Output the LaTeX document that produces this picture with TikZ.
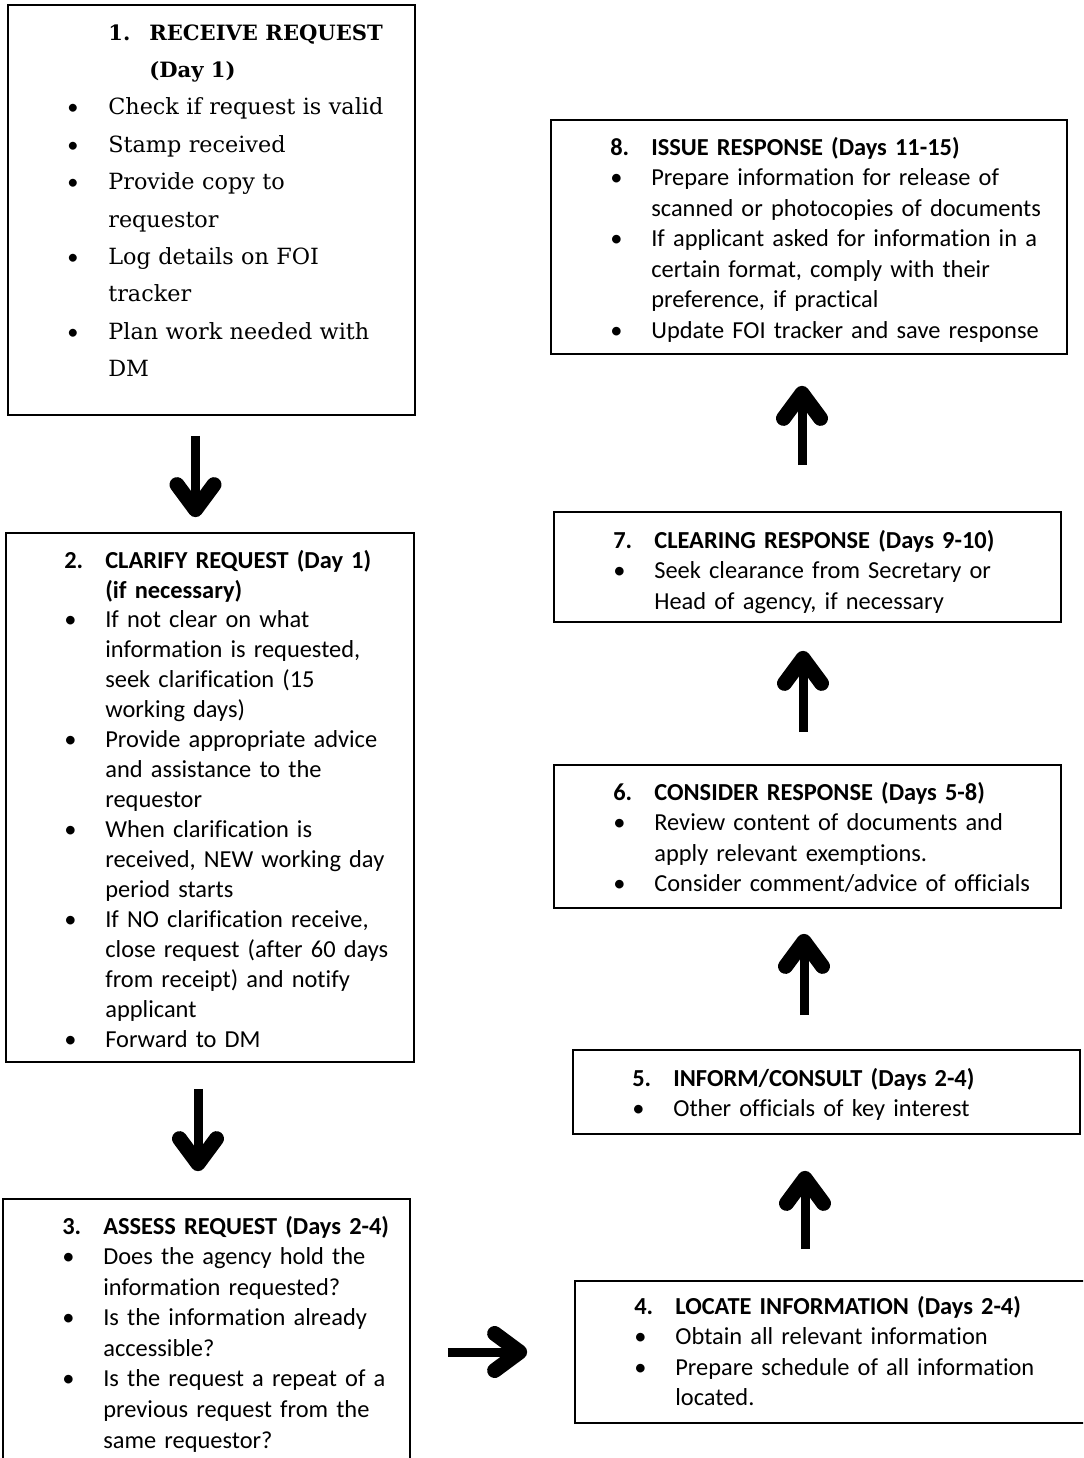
\documentclass[tikz,border=0pt]{standalone}
\usepackage{fontspec}
\setmainfont{Carlito}[Ligatures=NoCommon]
\newfontfamily\serf{DejaVu Serif}
\usetikzlibrary{positioning}
\usetikzlibrary{arrows.meta}
\usetikzlibrary{fit}

\newlength{\labw}
\setlength{\labw}{0.82cm}
\newcommand{\hd}[2]{\noindent\makebox[\labw][l]{\textbf{#1}}\textbf{#2}\par}
\newcommand{\bl}[1]{\noindent\makebox[\labw][l]{{\normalfont\textbullet}}#1\par}
\newcommand{\cl}[1]{\noindent\hspace*{\labw}#1\par}

\tikzset{
  box/.style={draw, line width=1pt, inner sep=0pt},
  txt/.style={anchor=base west, inner sep=0pt, text width=10cm,
    font=\fontsize{13.9}{17.4}\selectfont},
  bigarrow/.style={line width=0.18cm,
    -{Straight Barb[round, length=0.5cm, width=0.74cm, line width=0.3cm]}}
}

\begin{document}
\begin{tikzpicture}[x=0.02cm, y=-0.02cm]
\useasboundingbox (0,0) rectangle (1083,1458);
\clip (0,0) rectangle (1083,1458);

%% boxes
\node[box, fit={(8,5) (415,415)}] (b1) {};
\node[box, fit={(6,533) (414,1062)}] (b2) {};
\node[box, fit={(3,1199) (410,1475)}] (b3) {};
\node[box, fit={(575,1281) (1095,1423)}] (b4) {};
\node[box, fit={(573,1050) (1080,1134)}] (b5) {};
\node[box, fit={(554,765) (1061,908)}] (b6) {};
\node[box, fit={(554,512) (1061,622)}] (b7) {};
\node[box, fit={(551,120) (1067,354)}] (b8) {};

%% texts
\node[txt, font=\serf\fontsize{12.7}{21.3}\selectfont] (t1) at (67,40) {%
\noindent\hspace*{\labw}{\fontsize{12}{21.3}\selectfont\makebox[\labw][l]{\textbf{1.}}\textbf{RECEIVE REQUEST}}\par
\noindent\hspace*{2\labw}{\fontsize{12}{21.3}\selectfont\textbf{(Day 1)}}\par
\bl{Check if request is valid}
\bl{Stamp received}
\bl{Provide copy to}
\cl{requestor}
\bl{Log details on FOI}
\cl{tracker}
\bl{Plan work needed with}
\cl{DM}};

\node[txt, font=\fontsize{13.9}{17.07}\selectfont] (t2) at (64,568) {%
\hd{2.}{CLARIFY REQUEST (Day 1)}
\cl{\textbf{(if necessary)}}
\bl{If not clear on what}
\cl{information is requested,}
\cl{seek clarification (15}
\cl{working days)}
\bl{Provide appropriate advice}
\cl{and assistance to the}
\cl{requestor}
\bl{When clarification is}
\cl{received, NEW working day}
\cl{period starts}
\bl{If NO clarification receive,}
\cl{close request (after 60 days}
\cl{from receipt) and notify}
\cl{applicant}
\bl{Forward to DM}};

\node[txt] (t3) at (62,1234) {%
\hd{3.}{ASSESS REQUEST (Days 2-4)}
\bl{Does the agency hold the}
\cl{information requested?}
\bl{Is the information already}
\cl{accessible?}
\bl{Is the request a repeat of a}
\cl{previous request from the}
\cl{same requestor?}};

\node[txt] (t4) at (634,1314) {%
\hd{4.}{LOCATE INFORMATION (Days 2-4)}
\bl{Obtain all relevant information}
\bl{Prepare schedule of all information}
\cl{located.}};

\node[txt] (t5) at (632,1086) {%
\hd{5.}{INFORM/CONSULT (Days 2-4)}
\bl{Other officials of key interest}};

\node[txt] (t6) at (613,800) {%
\hd{6.}{CONSIDER RESPONSE (Days 5-8)}
\bl{Review content of documents and}
\cl{apply relevant exemptions.}
\bl{Consider comment/advice of officials}};

\node[txt] (t7) at (613,548) {%
\hd{7.}{CLEARING RESPONSE (Days 9-10)}
\bl{Seek clearance from Secretary or}
\cl{Head of agency, if necessary}};

\node[txt] (t8) at (610,155) {%
\hd{8.}{ISSUE RESPONSE (Days 11-15)}
\bl{Prepare information for release of}
\cl{scanned or photocopies of documents}
\bl{If applicant asked for information in a}
\cl{certain format, comply with their}
\cl{preference, if practical}
\bl{Update FOI tracker and save response}};

%% arrows
\draw[bigarrow, shorten <=0.4cm, shorten >=0.3cm]
  ([xshift=-0.32cm]b1.south) -- ([xshift=-0.32cm]b1.south |- b2.north);
\draw[bigarrow, shorten <=0.52cm, shorten >=0.54cm]
  ([xshift=-0.24cm]b2.south) -- ([xshift=-0.24cm]b2.south |- b3.north);
\draw[bigarrow, shorten <=0.74cm, shorten >=0.94cm]
  (b3.east |- b4.west) -- (b4.west);
\draw[bigarrow, shorten <=0.62cm, shorten >=0.72cm]
  ([xshift=-0.6cm]b4.north) -- ([xshift=-0.6cm]b4.north |- b5.south);
\draw[bigarrow, shorten <=0.68cm, shorten >=0.5cm]
  ([xshift=-0.07cm]b6.south |- b5.north) -- ([xshift=-0.07cm]b6.south);
\draw[bigarrow, shorten <=0.64cm, shorten >=0.56cm]
  ([xshift=-0.09cm]b6.north) -- ([xshift=-0.09cm]b7.south);
\draw[bigarrow, shorten <=0.92cm, shorten >=0.62cm]
  ([xshift=-0.11cm]b7.north) -- ([xshift=-0.11cm]b7.north |- b8.south);
\end{tikzpicture}
\end{document}
